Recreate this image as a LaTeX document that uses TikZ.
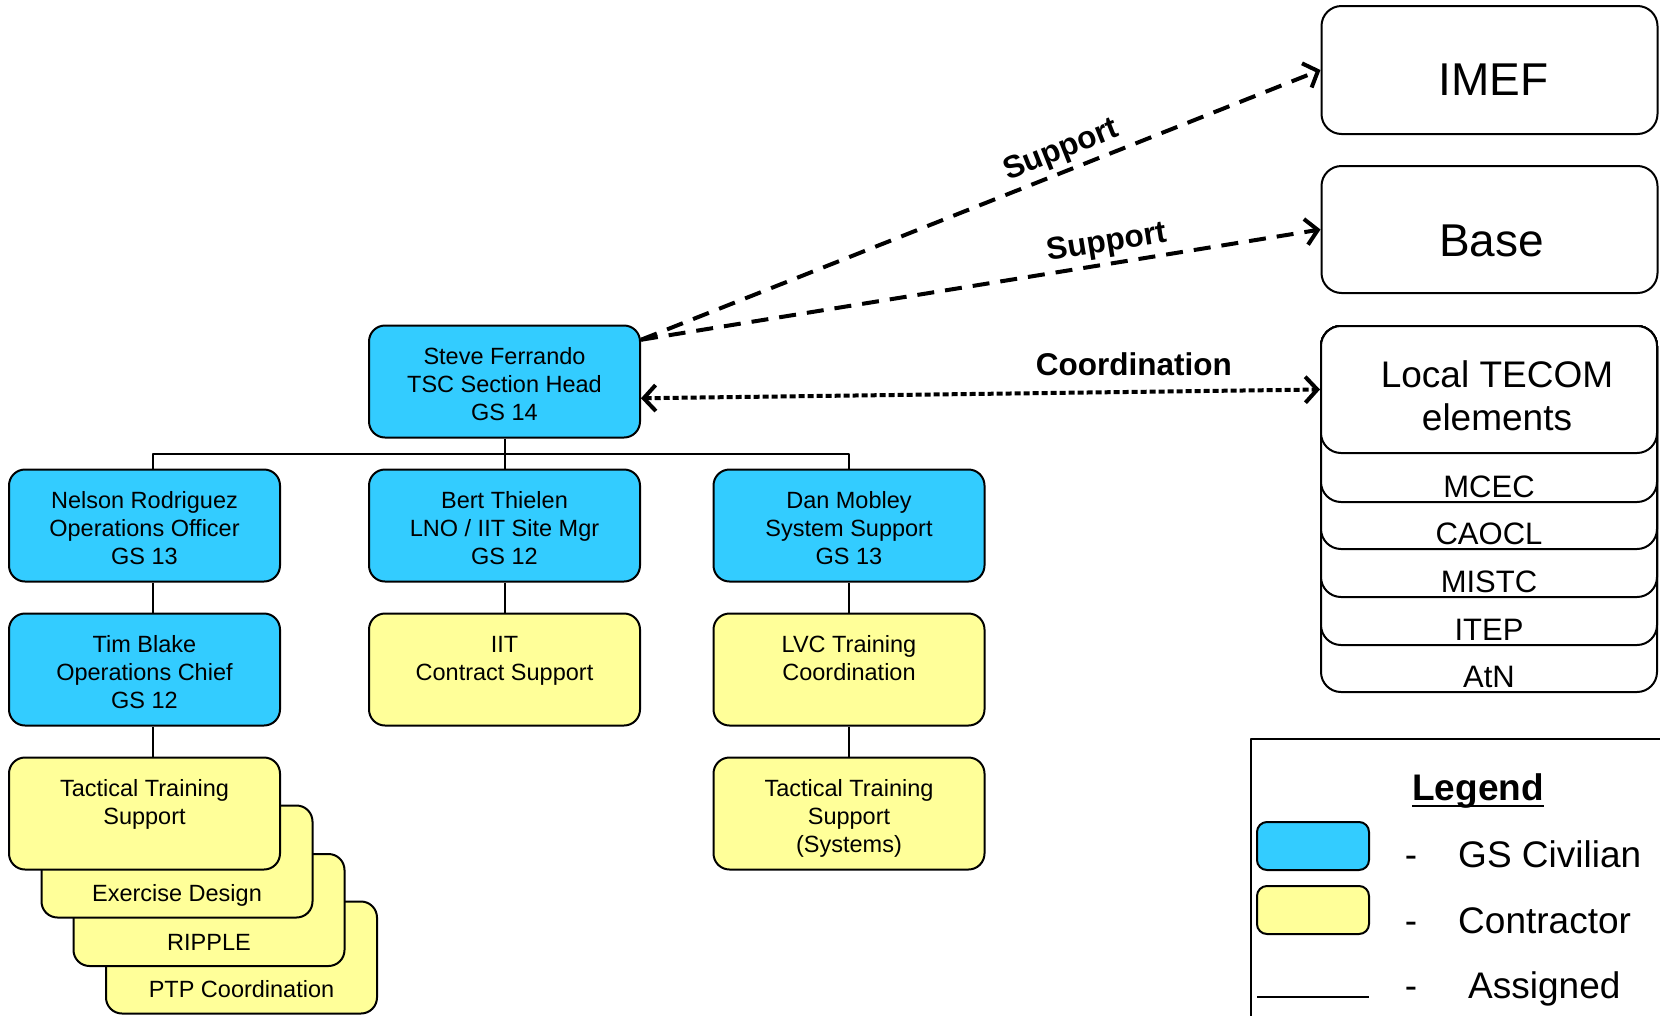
\documentclass[tikz,border=0pt]{standalone}
\usepackage{fontspec}
\setmainfont{Liberation Sans}
\usetikzlibrary{arrows.meta}
\definecolor{gsblue}{HTML}{33CCFF}
\definecolor{contryellow}{HTML}{FFFF99}
\newcommand{\boxfont}{\fontsize{23.5}{28}\selectfont}
\newcommand{\toplines}[1]{\parbox[c][112pt][t]{262pt}{\centering\rule{0pt}{39pt}#1}}
\newcommand{\botline}[1]{\parbox[c][96pt][b]{262pt}{\centering #1\rule[-16pt]{0pt}{16pt}}}
\newcommand{\stackline}[2]{\parbox[c][\dimexpr#1-5pt\relax][b]{320pt}{\centering #2\rule[-5pt]{0pt}{5pt}}}

\begin{document}
\begin{tikzpicture}[x=1pt, y=-1pt, line join=round,
    staff/.style={draw, line width=2pt, rounded corners=16pt, inner sep=0pt,
      minimum width=271pt, minimum height=112pt, font=\boxfont},
    civ/.style={staff, fill=gsblue},
    contr/.style={staff, fill=contryellow},
    unit/.style={draw, line width=2pt, rounded corners=20pt, fill=white,
      inner sep=0pt, minimum width=336pt},
    link/.style={line width=2pt},
    supp/.style={line width=4pt, dash pattern=on 17pt off 11pt,
      -{Straight Barb[length=12pt,width=26pt]}},
    coord/.style={line width=4pt, dash pattern=on 6pt off 3pt,
      {Straight Barb[length=12pt,width=26pt]}-{Straight Barb[length=12pt,width=26pt]}},
    lbl/.style={font=\fontsize{31.5}{36}\selectfont\bfseries, inner sep=0pt},
    legtxt/.style={font=\fontsize{37}{40}\selectfont, inner sep=0pt}]
	\useasboundingbox (0,0) rectangle (1660,1015);
	\clip (0,0) rectangle (1660,1015);
	
	% staff
	\node[civ] (steve) at (504.5,381.5) {\toplines{Steve Ferrando\\TSC Section Head\\GS 14}};
	\node[civ] (nelson) at (144.5,525.5) {\toplines{Nelson Rodriguez\\Operations Officer\\GS 13}};
	\node[civ] (bert) at (504.5,525.5) {\toplines{Bert Thielen\\LNO / IIT Site Mgr\\GS 12}};
	\node[civ] (dan) at (849,525.5) {\toplines{Dan Mobley\\System Support\\GS 13}};
	\node[civ] (tim) at (144.5,669.5) {\toplines{Tim Blake\\Operations Chief\\GS 12}};
	\node[contr] (iit) at (504.5,669.5) {\toplines{IIT\\Contract Support}};
	\node[contr] (lvc) at (849,669.5) {\toplines{LVC Training\\Coordination}};
	\node[contr] (ttss) at (849,813.5) {\toplines{Tactical Training\\Support\\(Systems)}};
	
	\node[contr] (ptp) at (241.5,957.5) {\botline{PTP Coordination}};
	\node[contr] (ripple) at (209,910) {\botline{RIPPLE}};
	\node[contr] (exd) at (177,861.5) {\botline{Exercise Design}};
	\node[contr] (tts) at (144.5,813.5) {\toplines{Tactical Training\\Support}};
	
	% assigned lines
	\coordinate (lx) at (153,0);
	\coordinate (bar) at (504.5,454);
	\draw[link] (steve.south) -- (bar);
	\draw[link] (nelson.north -| lx) |- (bar) -| (dan.north);
	\draw[link] (bar) -- (bert.north);
	\draw[link] (nelson.south -| lx) -- (tim.north -| lx);
	\draw[link] (tim.south -| lx) -- (tts.north -| lx);
	\draw[link] (bert.south) -- (iit.north);
	\draw[link] (dan.south) -- (lvc.north);
	\draw[link] (lvc.south) -- (ttss.north);
	
	% supported units
	\node[unit, minimum height=128pt, font=\fontsize{46}{50}\selectfont] (imef) at (1489.5,70)
	  {\parbox[c][128pt][t]{320pt}{\centering\rule{0pt}{89pt}\hspace*{8pt}IMEF}};
	\node[unit, minimum height=127pt, font=\fontsize{46}{50}\selectfont] (base) at (1489.5,229.5)
	  {\parbox[c][127pt][t]{320pt}{\centering\rule{0pt}{90pt}\hspace*{4pt}Base}};
	
	\node[unit, font=\fontsize{31}{36}\selectfont] (atn) at (1489,509) {\stackline{366pt}{AtN}};
	\node[unit, font=\fontsize{31}{36}\selectfont] (itep) at (1489,485.5) {\stackline{319pt}{ITEP}};
	\node[unit, font=\fontsize{31}{36}\selectfont] (mistc) at (1489,461.5) {\stackline{271pt}{MISTC}};
	\node[unit, font=\fontsize{31}{36}\selectfont] (caocl) at (1489,437.5) {\stackline{223pt}{CAOCL}};
	\node[unit, font=\fontsize{31}{36}\selectfont] (mcec) at (1489,414) {\stackline{176pt}{MCEC}};
	\node[unit, font=\fontsize{37}{43}\selectfont] (tecom) at (1489,389.5)
	  {\parbox[c][127pt][t]{320pt}{\centering\rule{0pt}{61pt}\hspace*{16pt}Local TECOM\\\hspace*{16pt}elements}};
	
	\draw[supp] (steve.17) -- node[lbl, sloped, above=4pt, pos=0.63] (supimef) {Support} (imef.west);
	\draw[supp] (steve.17) -- node[lbl, sloped, above=4pt, pos=0.69] (supbase) {Support} (base.west);
	\draw[coord] (steve.-7) -- node[lbl, above=14pt, pos=0.726] (coordlbl) {Coordination} (tecom.west);
	
	% legend
	\draw[line width=2pt] (1251,739) rectangle (1700,1100);
	\node[anchor=base, font=\fontsize{37}{40}\selectfont\bfseries, inner sep=0pt] (legtitle) at (1478,800) {Legend};
	\draw[line width=2.5pt] ([yshift=-6pt]legtitle.base west) -- ([yshift=-6pt]legtitle.base east);
	\node[draw, line width=2pt, rounded corners=10pt, fill=gsblue, minimum width=112pt, minimum height=48pt] (keyciv) at (1313,846) {};
	\node[draw, line width=2pt, rounded corners=10pt, fill=contryellow, minimum width=112pt, minimum height=48pt] (keycontr) at (1313,910) {};
	\draw[link] (1257,997) -- (1369,997);
	\node[legtxt, anchor=base] (dashciv) at (1411,867) {-};
	\node[legtxt, anchor=base] (dashcontr) at (1411,933) {-};
	\node[legtxt, anchor=base] (dashlink) at (1411,998) {-};
	\node[legtxt, anchor=base west] (txtciv) at (1458,867) {GS Civilian};
	\node[legtxt, anchor=base west] (txtcontr) at (1458,933) {Contractor};
	\node[legtxt, anchor=base west] (txtlink) at (1468,998) {Assigned};
\end{tikzpicture}
\end{document}
